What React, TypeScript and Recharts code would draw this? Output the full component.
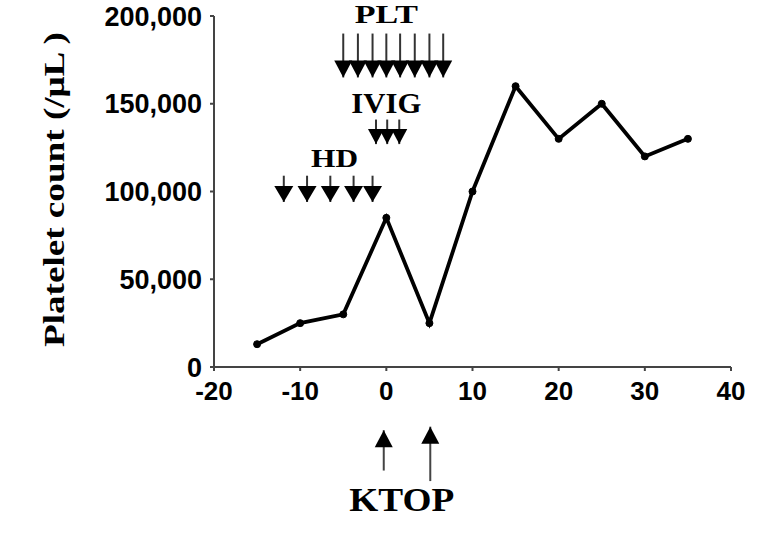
import React from 'react';
import { LineChart, Line, XAxis, YAxis, ReferenceLine, ReferenceDot } from 'recharts';

// Main series: day vs platelet count
const days = [-15, -10, -5, 0, 5, 10, 15, 20, 25, 30, 35];
const plateletCounts = [13000, 25000, 30000, 85000, 25000, 100000, 160000, 130000, 150000, 120000, 130000];

const xTicks = [-20, -10, 0, 10, 20, 30, 40];
const yTicks = [0, 50000, 100000, 150000, 200000];

// Treatment arrows (days), with tail / tip values in platelet-count units
const hdDays = [-11.9, -9.2, -6.5, -3.8, -1.6];
const hdTail = 109000;
const hdTip = 94000;

const ivigDays = [-1.2, 0.1, 1.5];
const ivigTail = 141000;
const ivigTip = 127000;

const pltDays = [-5, -3.3, -1.6, 0, 1.6, 3.3, 5, 6.6];
const pltTail = 190000;
const pltTip = 165000;

const ktopDays = [-0.3, 5.1];
const ktopTails = [-59000, -65000];
const ktopTips = [-36000, -34000];

// Text annotations
const labelTexts = ['PLT', 'IVIG', 'HD', 'KTOP'];
const labelDays = [0, 0, -6, 1.8];
const labelValues = [196000, 145000, 114000, -82000];

const data = days.map((d, i) => ({ day: d, count: plateletCounts[i] }));

const labelStyle: Record<string, { size: number; len: number }> = {
  PLT: { size: 25, len: 63 },
  IVIG: { size: 29, len: 70 },
  HD: { size: 25, len: 47 },
  KTOP: { size: 34, len: 105 },
};

const downHead = (w: number, h: number) => (p: any) => (
  <polygon
    points={`${p.cx},${p.cy} ${p.cx - w / 2},${p.cy - h} ${p.cx + w / 2},${p.cy - h}`}
    fill="#000"
  />
);
const upHead = (w: number, h: number) => (p: any) => (
  <polygon
    points={`${p.cx},${p.cy} ${p.cx - w / 2},${p.cy + h} ${p.cx + w / 2},${p.cy + h}`}
    fill="#000"
  />
);
const textShape = (txt: string) => (p: any) => (
  <text
    x={p.cx}
    y={p.cy}
    textAnchor="middle"
    fontFamily="Liberation Serif"
    fontWeight="bold"
    fontSize={labelStyle[txt].size}
    textLength={labelStyle[txt].len}
    lengthAdjust="spacingAndGlyphs"
    fill="#000"
  >
    {txt}
  </text>
);

const yLabel = (p: any) => {
  const vb = p.viewBox || { x: 0, y: 16, width: 214, height: 352 };
  const cx = vb.x + 64;
  const cy = vb.y + vb.height / 2 - 2;
  return (
    <text
      transform={`translate(${cx},${cy}) rotate(-90)`}
      textAnchor="middle"
      fontFamily="Liberation Serif"
      fontWeight="bold"
      fontSize={30}
      textLength={315}
      lengthAdjust="spacingAndGlyphs"
      fill="#000"
    >
      Platelet count (/μL )
    </text>
  );
};

const xTickFont = { fill: '#000', fontSize: 26, fontWeight: 'bold', fontFamily: 'Liberation Sans' } as any;
const yTickFont = { fill: '#000', fontSize: 27, fontWeight: 'bold', fontFamily: 'Liberation Sans' } as any;

const arrowShaft = (key: string, x: number, y1: number, y2: number, color = '#222') => (
  <ReferenceLine
    key={key}
    segment={[{ x, y: y1 }, { x, y: y2 }]}
    stroke={color}
    strokeWidth={2}
    ifOverflow="visible"
  />
);

export default function App() {
  return (
    <div style={{ position: 'absolute', left: 0, top: 0, width: 783, height: 545, background: '#fff' }}>
      <LineChart
        width={783}
        height={545}
        data={data}
        margin={{ top: 16, right: 52, bottom: 138, left: 0 }}
      >
        <XAxis
          dataKey="day"
          type="number"
          domain={[-20, 40]}
          ticks={xTicks}
          interval={0}
          height={40}
          tickSize={4}
          tickMargin={11}
          stroke="#444"
          strokeWidth={2}
          tick={xTickFont}
        />
        <YAxis
          type="number"
          domain={[0, 200000]}
          ticks={yTicks}
          interval={0}
          width={214}
          tickSize={4}
          tickMargin={8}
          stroke="#444"
          strokeWidth={2}
          tick={yTickFont}
          tickFormatter={(v: number) => v.toLocaleString('en-US')}
          label={{ content: yLabel } as any}
        />
        {pltDays.map((d, i) => arrowShaft(`ps${i}`, d, pltTail, pltTip, '#333'))}
        {pltDays.map((d, i) => (
          <ReferenceDot key={`ph${i}`} x={d} y={pltTip} r={1} ifOverflow="visible" shape={downHead(18, 17)} />
        ))}
        {ivigDays.map((d, i) => arrowShaft(`is${i}`, d, ivigTail, ivigTip, '#333'))}
        {ivigDays.map((d, i) => (
          <ReferenceDot key={`ih${i}`} x={d} y={ivigTip} r={1} ifOverflow="visible" shape={downHead(16, 15)} />
        ))}
        {hdDays.map((d, i) => arrowShaft(`hs${i}`, d, hdTail, hdTip, '#333'))}
        {hdDays.map((d, i) => (
          <ReferenceDot key={`hh${i}`} x={d} y={hdTip} r={1} ifOverflow="visible" shape={downHead(19, 16)} />
        ))}
        {ktopDays.map((d, i) => arrowShaft(`ks${i}`, d, ktopTails[i], ktopTips[i], '#444'))}
        {ktopDays.map((d, i) => (
          <ReferenceDot key={`kh${i}`} x={d} y={ktopTips[i]} r={1} ifOverflow="visible" shape={upHead(18, 17)} />
        ))}
        {labelTexts.map((t, i) => (
          <ReferenceDot key={`lb${i}`} x={labelDays[i]} y={labelValues[i]} r={1} ifOverflow="visible" shape={textShape(t)} />
        ))}
        <Line
          dataKey="count"
          type="linear"
          stroke="#000"
          strokeWidth={3.8}
          dot={{ r: 3.5, fill: '#000', stroke: '#000', strokeWidth: 1 }}
          isAnimationActive={false}
        />
      </LineChart>
    </div>
  );
}
